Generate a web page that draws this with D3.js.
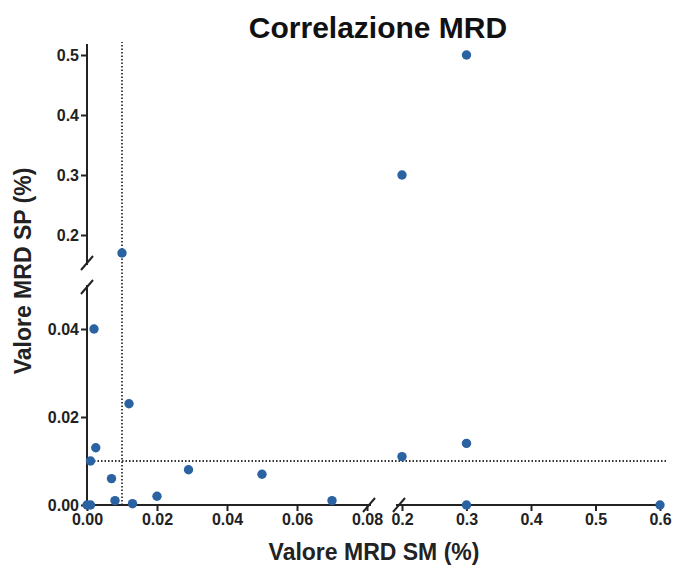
<!DOCTYPE html>
<style>
body { margin: 0; background: #fff; font-family: 'Liberation Sans', Arial, sans-serif; }
.axis text { font-weight: bold; font-size: 16px; fill: #222; font-family: 'Liberation Sans', Arial, sans-serif; }
.axis path, .axis line { stroke: #222; stroke-width: 2; }
</style>
<svg width="673" height="569"></svg>
<script src="https://d3js.org/d3.v7.min.js"></script>
<script>
// MRD values (%): bone marrow (SM) vs peripheral blood (SP)
var sm = [0, 0.001, 0.001, 0.0025, 0.002, 0.007, 0.008, 0.013, 0.012, 0.01, 0.02, 0.029, 0.05, 0.07, 0.2, 0.2, 0.3, 0.3, 0.3, 0.6];
var sp = [0, 0, 0.01, 0.013, 0.04, 0.006, 0.001, 0.0003, 0.023, 0.17, 0.002, 0.008, 0.007, 0.001, 0.011, 0.3, 0.014, 0.5, 0, 0];
var xTicksLo = [0, 0.02, 0.04, 0.06, 0.08];
var xTicksHi = [0.2, 0.3, 0.4, 0.5, 0.6];
var yTicksLo = [0, 0.02, 0.04];
var yTicksHi = [0.2, 0.3, 0.4, 0.5];
var cutoff = 0.01;

var svg = d3.select("svg");

// broken axes: two segments each
var xLo = d3.scaleLinear().domain([0, 0.08]).range([87, 367]);
var xHi = d3.scaleLinear().domain([0.2, 0.6]).range([402, 660]);
var yLo = d3.scaleLinear().domain([0, 0.05]).range([505, 285]);
var yHi = d3.scaleLinear().domain([0.15, 0.5]).range([265, 55]);
function X(v) { return v <= 0.1 ? xLo(v) : xHi(v); }
function Y(v) { return v <= 0.1 ? yLo(v) : yHi(v); }

var fmt2 = d3.format(".2f"), fmt1 = d3.format(".1f");

// reference lines at 0.01
svg.append("line")
    .attr("x1", X(cutoff)).attr("x2", X(cutoff))
    .attr("y1", yLo(0)).attr("y2", 42)
    .attr("stroke", "#333").attr("stroke-width", 1.8)
    .attr("stroke-dasharray", "1.5,2");
svg.append("line")
    .attr("x1", xLo(0)).attr("x2", 666)
    .attr("y1", Y(cutoff)).attr("y2", Y(cutoff))
    .attr("stroke", "#333").attr("stroke-width", 1.8)
    .attr("stroke-dasharray", "1.5,2");

// x axes
svg.append("g").attr("class", "axis")
    .attr("transform", "translate(0," + yLo(0) + ")")
    .call(d3.axisBottom(xLo).tickValues(xTicksLo).tickFormat(fmt2).tickSize(6).tickSizeOuter(0).tickPadding(3))
    .call(function(g) { g.select(".domain").attr("d", "M" + xLo(0) + ",0H" + (xLo(0.08) + 4)); });
svg.append("g").attr("class", "axis")
    .attr("transform", "translate(0," + yLo(0) + ")")
    .call(d3.axisBottom(xHi).tickValues(xTicksHi).tickFormat(fmt1).tickSize(6).tickSizeOuter(0).tickPadding(3))
    .call(function(g) { g.select(".domain").attr("d", "M" + (xHi(0.2) - 6) + ",0H" + xHi(0.6)); });

// y axes
svg.append("g").attr("class", "axis")
    .attr("transform", "translate(" + xLo(0) + ",0)")
    .call(d3.axisLeft(yLo).tickValues(yTicksLo).tickFormat(fmt2).tickSize(6).tickSizeOuter(0).tickPadding(2))
    .call(function(g) { g.select(".domain").attr("d", "M0," + yLo(0) + "V" + yLo(0.05)); });
svg.append("g").attr("class", "axis")
    .attr("transform", "translate(" + xLo(0) + ",0)")
    .call(d3.axisLeft(yHi).tickValues(yTicksHi).tickFormat(fmt1).tickSize(6).tickSizeOuter(0).tickPadding(2))
    .call(function(g) { g.select(".domain").attr("d", "M0," + yHi(0.15) + "V44"); });

// break marks
var brk = [
  [xLo(0.08) + 2, yLo(0)], [xHi(0.2) - 3, yLo(0)],
  [xLo(0), yLo(0.05) + 2], [xLo(0), yHi(0.15) - 2]
];
svg.selectAll(".brk").data(brk).enter().append("line")
    .attr("x1", function(d) { return d[0] - 6; })
    .attr("y1", function(d) { return d[1] + 7; })
    .attr("x2", function(d) { return d[0] + 6; })
    .attr("y2", function(d) { return d[1] - 7; })
    .attr("stroke", "#222").attr("stroke-width", 2);

// points
svg.selectAll(".pt").data(sm).enter().append("circle")
    .attr("cx", function(d) { return X(d); })
    .attr("cy", function(d, i) { return Y(sp[i]); })
    .attr("r", 4.7)
    .attr("fill", "#2b62a1");

// titles
svg.append("text")
    .attr("x", 378).attr("y", 38)
    .attr("text-anchor", "middle")
    .attr("font-size", 30).attr("font-weight", "bold").attr("fill", "#111")
    .text("Correlazione MRD");
svg.append("text")
    .attr("x", 374).attr("y", 560)
    .attr("text-anchor", "middle")
    .attr("font-size", 23).attr("font-weight", "bold").attr("fill", "#222")
    .text("Valore MRD SM (%)");
svg.append("text")
    .attr("transform", "translate(31,271) rotate(-90)")
    .attr("text-anchor", "middle")
    .attr("font-size", 23).attr("font-weight", "bold").attr("fill", "#222")
    .text("Valore MRD SP (%)");
</script>
